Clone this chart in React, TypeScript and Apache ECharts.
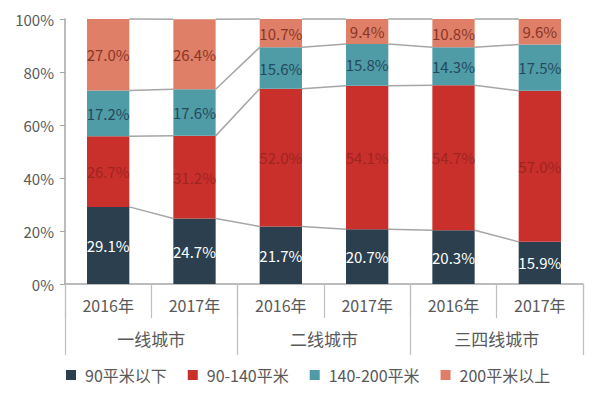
import React, { useEffect, useRef } from "react";
import * as echarts from "echarts";

const years = ["2016年", "2017年", "2016年", "2017年", "2016年", "2017年"];
const groups = ["一线城市", "二线城市", "三四线城市"];
const seriesNames = ["90平米以下", "90-140平米", "140-200平米", "200平米以上"];
const under90 = [29.1, 24.7, 21.7, 20.7, 20.3, 15.9];
const s90to140 = [26.7, 31.2, 52.0, 54.1, 54.7, 57.0];
const s140to200 = [17.2, 17.6, 15.6, 15.8, 14.3, 17.5];
const over200 = [27.0, 26.4, 10.7, 9.4, 10.8, 9.6];
const yTicks = [0, 20, 40, 60, 80, 100];

const colors = ["#2b3f4e", "#c9302c", "#4f9ca7", "#e07f67"];
const labelColors = ["#ffffff", "#9e2420", "#24495a", "#8a3526"];
const BAR_FRAC = 0.49;

export default function App() {
  const ref = useRef<HTMLDivElement>(null);
  useEffect(() => {
    if (!ref.current) return;
    document.body.style.margin = "0";
    const chart = echarts.init(ref.current, undefined, { renderer: "svg" });
    const all = [under90, s90to140, s140to200, over200];
    const cum = years.map((_, i) => {
      let acc = 0;
      return all.map((arr) => {
        acc += arr[i];
        return Math.min(acc, 100);
      });
    });
    const connData = years.slice(0, -1).map((_, i) => [i, ...cum[i], ...cum[i + 1]]);
    const font = "'Noto Sans CJK SC', 'Noto Sans', sans-serif";
    const barSeries = all.map((arr, k) => ({
      name: seriesNames[k],
      type: "bar",
      stack: "total",
      barWidth: "49%",
      data: arr,
      itemStyle: { color: colors[k] },
      label: {
        show: true,
        position: "inside",
        color: labelColors[k],
        fontSize: 15,
        fontFamily: font,
        formatter: (p: any) => `${Number(p.value).toFixed(1)}%`,
      },
      z: 3,
    }));
    chart.setOption({
      animation: false,
      textStyle: { fontFamily: font },
      grid: { left: 65, right: 17, top: 19, bottom: 114 },
      legend: {
        data: seriesNames,
        top: 362,
        left: 61,
        icon: "rect",
        itemWidth: 10,
        itemHeight: 10,
        itemGap: 21,
        textStyle: { fontSize: 16, color: "#595959", fontFamily: font, padding: [0, 0, 0, 4] },
      },
      xAxis: [
        {
          type: "category",
          data: years,
          position: "bottom",
          axisLine: { show: true, lineStyle: { color: "#a6a6a6", width: 1.5 } },
          axisTick: { show: true, length: 34, lineStyle: { color: "#bfbfbf", width: 1.2 } },
          axisLabel: { margin: 13, fontSize: 16, color: "#595959", fontFamily: font },
        },
        {
          type: "category",
          data: groups,
          position: "bottom",
          axisLine: { show: false },
          axisTick: { show: true, length: 71, lineStyle: { color: "#bfbfbf", width: 1.2 } },
          axisLabel: { margin: 46, fontSize: 17, color: "#595959", fontFamily: font },
        },
      ],
      yAxis: {
        type: "value",
        min: yTicks[0],
        max: yTicks[yTicks.length - 1],
        interval: 20,
        axisLine: { show: true, lineStyle: { color: "#a6a6a6", width: 1.5 } },
        axisTick: { show: true, length: 5, lineStyle: { color: "#a6a6a6" } },
        splitLine: { show: false },
        axisLabel: {
          margin: 11,
          fontSize: 15,
          color: "#595959",
          fontFamily: font,
          formatter: "{value}%",
        },
      },
      series: [
        ...barSeries,
        {
          type: "custom",
          xAxisIndex: 0,
          yAxisIndex: 0,
          data: connData,
          encode: { x: 0, y: 1 },
          z: 2,
          silent: true,
          renderItem: (params: any, api: any) => {
            const i = api.value(0);
            const half = (api.size([1, 0])[0] * BAR_FRAC) / 2;
            const children = [];
            for (let k = 0; k < 4; k++) {
              const a = api.coord([i, api.value(1 + k)]);
              const b = api.coord([i + 1, api.value(5 + k)]);
              children.push({
                type: "line",
                shape: { x1: a[0] + half, y1: a[1], x2: b[0] - half, y2: b[1] },
                style: { stroke: "#a6a6a6", lineWidth: 1.5 },
              });
            }
            return { type: "group", children };
          },
        },
      ],
    });
    return () => chart.dispose();
  }, []);
  return <div ref={ref} style={{ width: 600, height: 398 }} />;
}
